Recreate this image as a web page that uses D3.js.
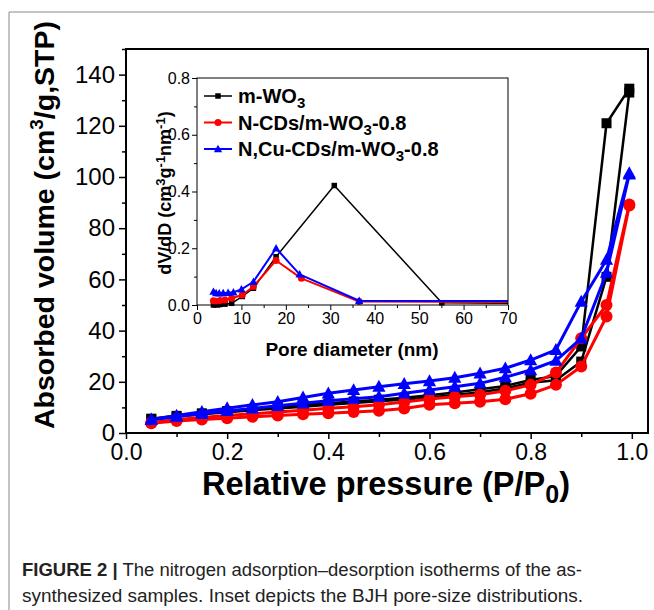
<!DOCTYPE html>
<html>
<head>
<meta charset="utf-8">
<script src="https://cdn.jsdelivr.net/npm/d3@7/dist/d3.min.js"></script>
<style>
  html, body { margin: 0; padding: 0; background: #fff; }
  svg { display: block; font-family: "Liberation Sans", Arial, sans-serif; }
</style>
</head>
<body>
<svg id="chart" width="654" height="610"></svg>
<script>
// Relative pressure points (P/P0) shared by both branches
const pressure = [0.05, 0.10, 0.15, 0.20, 0.25, 0.30, 0.35, 0.40, 0.45, 0.50,
                  0.55, 0.60, 0.65, 0.70, 0.75, 0.80, 0.85, 0.90, 0.95, 0.995];

// Adsorbed volume, cm3/g STP (adsorption and desorption branches)
const wo3Ads   = [5.3, 6.4, 7.3, 8.1, 8.9, 9.6, 10.3, 11.0, 11.7, 12.4, 13.1, 13.9, 14.8, 15.9, 17.4, 19.6, 20.6, 27.9, 61.0, 133.0];
const wo3Des   = [5.6, 6.7, 7.7, 8.6, 9.4, 10.2, 10.9, 11.6, 12.3, 13.0, 13.8, 14.7, 15.8, 17.1, 18.4, 20.7, 22.3, 33.8, 121.0, 134.5];
const ncdAds   = [3.8, 4.7, 5.3, 5.8, 6.3, 6.8, 7.3, 7.7, 8.2, 8.7, 9.6, 11.0, 11.6, 12.2, 13.2, 15.3, 18.8, 26.0, 45.5, 88.9];
const ncdDes   = [4.0, 5.3, 6.1, 6.8, 7.5, 8.2, 8.9, 9.7, 10.3, 11.0, 12.1, 13.3, 14.2, 14.9, 16.5, 18.8, 23.6, 37.0, 50.0, 89.3];
const ncuAds   = [5.1, 6.4, 7.5, 8.6, 9.6, 10.6, 11.6, 12.6, 13.4, 14.2, 15.5, 16.8, 18.1, 19.4, 21.8, 24.6, 28.3, 37.0, 62.6, 101.0];
const ncuDes   = [5.3, 6.8, 8.3, 9.7, 11.0, 12.2, 13.9, 15.5, 16.8, 18.1, 19.2, 20.3, 21.6, 23.3, 25.3, 28.5, 32.5, 51.3, 67.7, 101.5];

// BJH pore-size distribution (inset): pore diameter (nm) and dV/dD
const wo3Pore  = [3.7, 4.3, 5.2, 6.3, 7.8, 10.2, 12.7, 17.8, 30.9, 55.1, 90];
const wo3DvDd  = [0.000, 0.000, 0.002, 0.003, 0.006, 0.030, 0.059, 0.170, 0.421, 0.008, 0.004];
const ncdPore  = [3.7, 4.3, 5.2, 6.3, 7.8, 10.2, 12.7, 17.8, 23.5, 36.5, 90];
const ncdDvDd  = [0.015, 0.013, 0.016, 0.018, 0.024, 0.035, 0.065, 0.157, 0.094, 0.012, 0.010];
const ncuPore  = [3.7, 4.3, 5.0, 5.9, 7.0, 8.2, 10.0, 12.7, 17.8, 23.1, 36.5, 90];
const ncuDvDd  = [0.047, 0.042, 0.041, 0.042, 0.043, 0.045, 0.055, 0.082, 0.200, 0.108, 0.015, 0.013];

// Tick values
const mainXTicks = [0.0, 0.2, 0.4, 0.6, 0.8, 1.0];
const mainYTicks = [0, 20, 40, 60, 80, 100, 120, 140];
const insetXTicks = [0, 10, 20, 30, 40, 50, 60, 70];
const insetYTicks = [0.0, 0.2, 0.4, 0.6, 0.8];

const svg = d3.select("#chart");

// Page frame lines
svg.append("line").attr("x1", 9).attr("x2", 654).attr("y1", 12).attr("y2", 12)
  .attr("stroke", "#8a8a8a").attr("stroke-width", 1);
svg.append("line").attr("x1", 9).attr("x2", 9).attr("y1", 12).attr("y2", 610)
  .attr("stroke", "#8a8a8a").attr("stroke-width", 1);

// ---------- main isotherm plot ----------
const M = { left: 126, right: 648, top: 49, bottom: 433 };
const x = d3.scaleLinear().domain([0, 1.032]).range([M.left, M.right]);
const y = d3.scaleLinear().domain([0, 150]).range([M.bottom, M.top]);

const main = svg.append("g");

const xAxis = d3.axisBottom(x).tickValues(d3.range(0, 1.01, 0.1)).tickSize(6)
  .tickFormat(d => mainXTicks.some(t => Math.abs(t - d) < 1e-6) ? d.toFixed(1) : "");
const yMinor = d3.axisLeft(y).tickValues(d3.range(10, 151, 20)).tickSize(4).tickFormat("");
const yAxis = d3.axisLeft(y).tickValues(mainYTicks).tickSize(7).tickFormat(d3.format("d"));

const gx = main.append("g").attr("transform", `translate(0,${M.bottom})`).call(xAxis);
gx.select(".domain").remove();
gx.selectAll("line").attr("stroke", "#000").attr("stroke-width", 1.5);
gx.selectAll("text").attr("font-size", 23).attr("dy", 18).attr("fill", "#000");
gx.selectAll(".tick").filter(d => !mainXTicks.some(t => Math.abs(t - d) < 1e-6))
  .select("line").attr("y2", 4);

const gyMinor = main.append("g").attr("transform", `translate(${M.left},0)`).call(yMinor);
gyMinor.select(".domain").remove();
gyMinor.selectAll("line").attr("stroke", "#000").attr("stroke-width", 1.5);

const gy = main.append("g").attr("transform", `translate(${M.left},0)`).call(yAxis);
gy.select(".domain").remove();
gy.selectAll("line").attr("stroke", "#000").attr("stroke-width", 1.5);
gy.selectAll("text").attr("font-size", 24).attr("x", -11).attr("fill", "#000");

main.append("rect").attr("x", M.left).attr("y", M.top)
  .attr("width", M.right - M.left).attr("height", M.bottom - M.top)
  .attr("fill", "none").attr("stroke", "#000").attr("stroke-width", 2);

const line = d3.line().x(d => x(d[0])).y(d => y(d[1]));

const mainSeries = [
  { ads: wo3Ads, des: wo3Des, color: "#000000", shape: "square", lw: 2.5 },
  { ads: ncdAds, des: ncdDes, color: "#ff0000", shape: "circle", lw: 3 },
  { ads: ncuAds, des: ncuDes, color: "#0000ff", shape: "triangle", lw: 3 }
];

function drawMarker(g, shape, cx, cy, size, color) {
  if (shape === "square") {
    g.append("rect").attr("x", cx - size / 2).attr("y", cy - size / 2)
      .attr("width", size).attr("height", size).attr("fill", color);
  } else if (shape === "circle") {
    g.append("circle").attr("cx", cx).attr("cy", cy).attr("r", size / 2).attr("fill", color);
  } else {
    const h = size * 0.95, w = size * 1.1;
    g.append("path")
      .attr("d", `M${cx},${cy - h * 0.6}L${cx + w / 2},${cy + h * 0.45}L${cx - w / 2},${cy + h * 0.45}Z`)
      .attr("fill", color);
  }
}

const mainPlot = main.append("g");
mainSeries.forEach(s => {
  [s.ads, s.des].forEach(vals => {
    const pts = pressure.map((p, i) => [p, vals[i]]);
    mainPlot.append("path").datum(pts).attr("d", line)
      .attr("fill", "none").attr("stroke", s.color).attr("stroke-width", s.lw)
      .attr("stroke-linejoin", "round");
    pts.forEach(d => drawMarker(mainPlot, s.shape, x(d[0]), y(d[1]),
      s.shape === "square" ? 10 : 12, s.color));
  });
});

// axis titles
svg.append("text")
  .attr("transform", `translate(54,225) rotate(-90)`)
  .attr("text-anchor", "middle").attr("font-size", 28.5).attr("font-weight", "bold")
  .html('Absorbed volume (cm<tspan dy="-11" font-size="19">3</tspan><tspan dy="11">/g,STP)</tspan>');

svg.append("text")
  .attr("x", 386).attr("y", 495)
  .attr("text-anchor", "middle").attr("font-size", 32.5).attr("font-weight", "bold")
  .html('Relative pressure (P/P<tspan dy="8" font-size="25">0</tspan><tspan dy="-8">)</tspan>');

// ---------- inset: BJH pore-size distribution ----------
const I = { left: 197, right: 508, top: 78, bottom: 305 };
const xi = d3.scaleLinear().domain([0, 70]).range([I.left, I.right]);
const yi = d3.scaleLinear().domain([0, 0.8]).range([I.bottom, I.top]);

const inset = svg.append("g");
inset.append("rect").attr("x", I.left).attr("y", I.top)
  .attr("width", I.right - I.left).attr("height", I.bottom - I.top)
  .attr("fill", "#fff").attr("stroke", "none");

const xiMinor = d3.axisBottom(xi).tickValues(d3.range(5, 70, 10)).tickSize(3).tickFormat("");
const xiAxis = d3.axisBottom(xi).tickValues(insetXTicks).tickSize(5).tickFormat(d3.format("d"));
const yiMinor = d3.axisLeft(yi).tickValues(d3.range(0.1, 0.8, 0.2)).tickSize(3).tickFormat("");
const yiAxis = d3.axisLeft(yi).tickValues(insetYTicks).tickSize(5).tickFormat(d3.format(".1f"));

[[xiMinor, "x"], [xiAxis, "x"], [yiMinor, "y"], [yiAxis, "y"]].forEach(([ax, k]) => {
  const g = inset.append("g")
    .attr("transform", k === "x" ? `translate(0,${I.bottom})` : `translate(${I.left},0)`)
    .call(ax);
  g.select(".domain").remove();
  g.selectAll("line").attr("stroke", "#000").attr("stroke-width", 1);
  g.selectAll("text").attr("font-size", 16).attr("fill", "#000");
  if (k === "y") g.selectAll("text").attr("x", -7);
});

inset.append("defs").append("clipPath").attr("id", "insetClip")
  .append("rect").attr("x", I.left).attr("y", I.top - 6)
  .attr("width", I.right - I.left).attr("height", I.bottom - I.top + 12);

const lineI = d3.line().x(d => xi(d[0])).y(d => yi(d[1]));
const insetSeries = [
  { xs: wo3Pore, ys: wo3DvDd, color: "#000000", shape: "square", lw: 1.5, ms: 5.5 },
  { xs: ncdPore, ys: ncdDvDd, color: "#ff0000", shape: "circle", lw: 2, ms: 7 },
  { xs: ncuPore, ys: ncuDvDd, color: "#0000ff", shape: "triangle", lw: 2, ms: 7.5 }
];
const insetPlot = inset.append("g").attr("clip-path", "url(#insetClip)");
insetSeries.forEach(s => {
  const pts = s.xs.map((v, i) => [v, s.ys[i]]);
  insetPlot.append("path").datum(pts).attr("d", lineI)
    .attr("fill", "none").attr("stroke", s.color).attr("stroke-width", s.lw)
    .attr("stroke-linejoin", "round");
  pts.filter(d => d[0] <= 70).forEach(d => drawMarker(insetPlot, s.shape, xi(d[0]), yi(d[1]), s.ms, s.color));
});

inset.append("rect").attr("x", I.left).attr("y", I.top)
  .attr("width", I.right - I.left).attr("height", I.bottom - I.top)
  .attr("fill", "none").attr("stroke", "#000").attr("stroke-width", 1);

inset.append("text")
  .attr("x", 352).attr("y", 356).attr("text-anchor", "middle")
  .attr("font-size", 19).attr("font-weight", "bold").text("Pore diameter (nm)");

inset.append("text")
  .attr("transform", `translate(171,193) rotate(-90)`)
  .attr("text-anchor", "middle").attr("font-size", 18).attr("font-weight", "bold")
  .html('dV/dD (cm<tspan dy="-6" font-size="13">3</tspan><tspan dy="6">g</tspan><tspan dy="-6" font-size="13">-1</tspan><tspan dy="6">nm</tspan><tspan dy="-6" font-size="13">-1</tspan><tspan dy="6">)</tspan>');

// legend
const legendItems = [
  { color: "#000000", shape: "square", ms: 5.5, lw: 1.5, html: 'm-WO<tspan dy="5" font-size="15">3</tspan>' },
  { color: "#ff0000", shape: "circle", ms: 7, lw: 2, html: 'N-CDs/m-WO<tspan dy="5" font-size="15">3</tspan><tspan dy="-5">-0.8</tspan>' },
  { color: "#0000ff", shape: "triangle", ms: 7.5, lw: 2, html: 'N,Cu-CDs/m-WO<tspan dy="5" font-size="15">3</tspan><tspan dy="-5">-0.8</tspan>' }
];
const legend = inset.append("g");
legendItems.forEach((it, i) => {
  const cy = 96 + i * 26.5;
  legend.append("line").attr("x1", 204).attr("x2", 232).attr("y1", cy).attr("y2", cy)
    .attr("stroke", it.color).attr("stroke-width", it.lw);
  drawMarker(legend, it.shape, 218, cy, it.ms, it.color);
  legend.append("text").attr("x", 238).attr("y", cy + 7)
    .attr("font-size", 20).attr("font-weight", "bold").html(it.html);
});

// caption
const cap = svg.append("g").attr("font-size", 17.5).attr("fill", "#222");
cap.append("text").attr("x", 22).attr("y", 576)
  .attr("font-family", "'Liberation Sans Narrow', 'Liberation Sans', Arial, sans-serif")
  .attr("textLength", 560).attr("lengthAdjust", "spacingAndGlyphs")
  .html('<tspan font-weight="bold">FIGURE 2 |</tspan> The nitrogen adsorption–desorption isotherms of the as-');
cap.append("text").attr("x", 22).attr("y", 602)
  .attr("font-family", "'Liberation Sans Narrow', 'Liberation Sans', Arial, sans-serif")
  .attr("textLength", 561).attr("lengthAdjust", "spacingAndGlyphs")
  .text("synthesized samples. Inset depicts the BJH pore-size distributions.");
</script>
</body>
</html>
